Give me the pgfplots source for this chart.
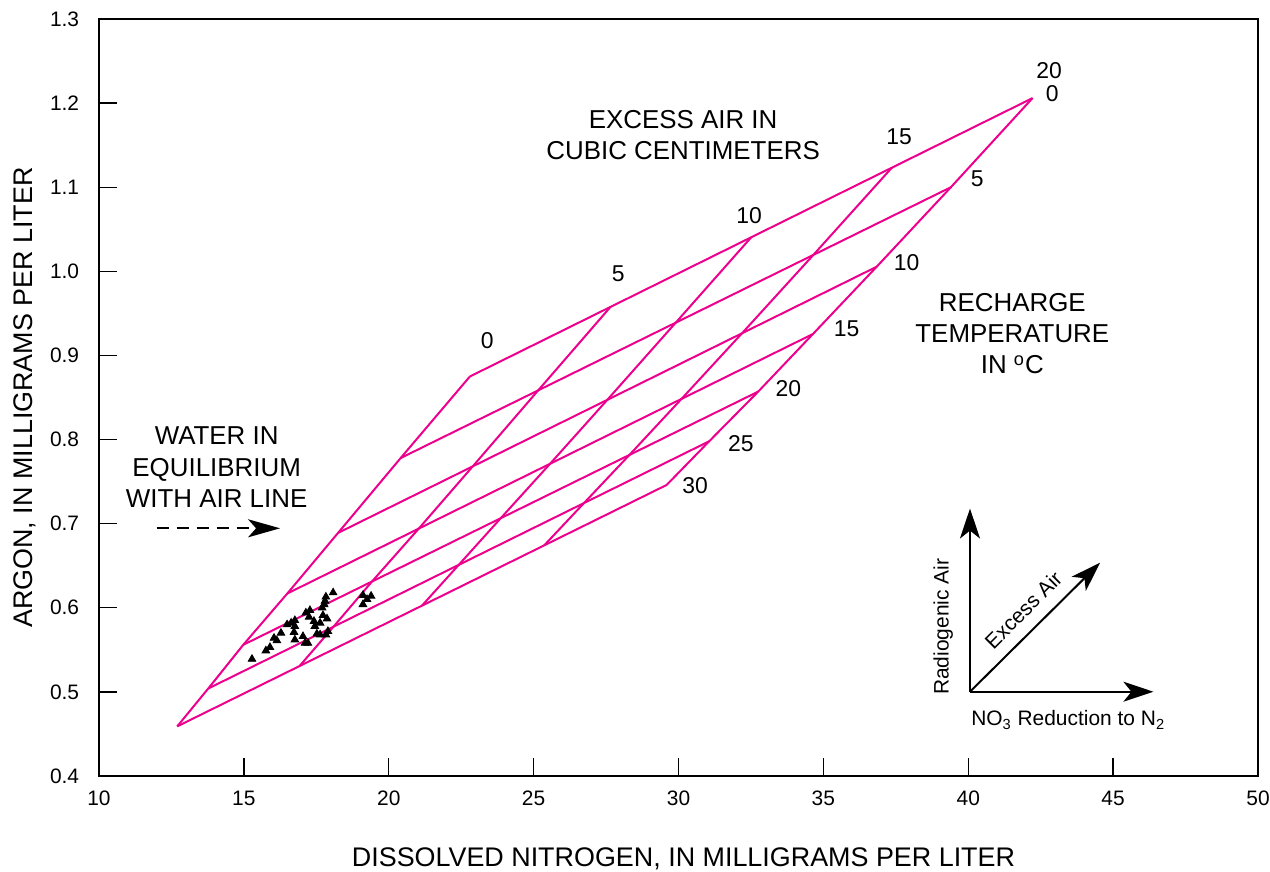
\documentclass[border=0pt]{standalone}
\usepackage{fontspec}
\setmainfont{Liberation Sans}
\usepackage{pgfplots}
\pgfplotsset{compat=1.18}
\usetikzlibrary{arrows.meta}
\definecolor{gridpink}{RGB}{236,0,140}

\begin{document}
\begin{tikzpicture}
\path[use as bounding box] (-49.5bp,-48bp) rectangle (585.5bp,388bp);
\begin{axis}[
  at={(0,0)}, anchor=south west,
  scale only axis, width=579.5bp, height=378.5bp,
  xmin=10, xmax=50, ymin=0.4, ymax=1.3,
  xtick={10,15,20,25,30,35,40,45,50},
  ytick={0.4,0.5,0.6,0.7,0.8,0.9,1.0,1.1,1.2,1.3},
  tick align=inside, xtick pos=bottom, ytick pos=left,
  major tick length=9bp,
  axis line style={line width=1.2bp},
  every tick/.style={black, line width=0.7bp},
  tick label style={font=\fontsize{10.5}{12}\selectfont},
  /pgf/number format/assume math mode=true,
  yticklabel style={/pgf/number format/fixed, /pgf/number format/fixed zerofill,
    /pgf/number format/precision=1, anchor=east, inner xsep=0pt, xshift=-9.75bp},
  xticklabel style={anchor=base, yshift=-14.5bp},
  xlabel={DISSOLVED NITROGEN, IN MILLIGRAMS PER LITER},
  ylabel={ARGON, IN MILLIGRAMS PER LITER},
  label style={font=\fontsize{13.5}{16}\selectfont},
  xlabel style={at={(axis description cs:0.5043,-0.1202)}, anchor=base},
  ylabel style={at={(axis description cs:-0.0578,0.5)}, anchor=base},
  clip=false,
  grid line/.style={gridpink, line width=1bp, no markers},
]
% recharge temperature lines (0 to 30 C), excess air 0 -> 20 cc
\addplot[grid line] coordinates {(22.80,0.875) (42.22,1.206)};
\addplot[grid line] coordinates {(20.41,0.778) (39.40,1.100)};
\addplot[grid line] coordinates {(18.25,0.689) (36.84,1.0055)};
\addplot[grid line] coordinates {(16.50,0.617) (34.64,0.9255)};
\addplot[grid line] coordinates {(14.98,0.556) (32.75,0.857)};
\addplot[grid line] coordinates {(13.77,0.504) (31.06,0.798)};
\addplot[grid line] coordinates {(12.70,0.459) (29.59,0.746)};
% excess air lines (0, 5, 10, 15, 20 cc)
\addplot[grid line] coordinates {(22.80,0.875) (20.41,0.778) (18.25,0.689) (16.50,0.617) (14.98,0.556) (13.77,0.504) (12.70,0.459)};
\addplot[grid line] coordinates {(27.655,0.9578) (25.158,0.8585) (22.898,0.7681) (21.035,0.6941) (19.423,0.6313) (18.093,0.5775) (16.923,0.5308)};
\addplot[grid line] coordinates {(32.51,1.0405) (29.905,0.939) (27.545,0.8473) (25.57,0.7713) (23.865,0.7065) (22.415,0.651) (21.145,0.6025)};
\addplot[grid line] coordinates {(37.365,1.1233) (34.653,1.0195) (32.193,0.9264) (30.105,0.8484) (28.308,0.7818) (26.738,0.7245) (25.368,0.6743)};
\addplot[grid line] coordinates {(42.22,1.206) (39.40,1.100) (36.84,1.0055) (34.64,0.9255) (32.75,0.857) (31.06,0.798) (29.59,0.746)};
% samples
\addplot[only marks, mark=triangle*, mark size=2.2pt, black] coordinates {
(15.28,0.539) (15.76,0.549) (15.90,0.553) (16.04,0.564) (16.14,0.561) (16.28,0.570)
(16.49,0.580) (16.63,0.582) (16.76,0.585) (16.76,0.578) (16.73,0.571) (16.76,0.562)
(17.04,0.566) (17.11,0.558) (17.21,0.558) (17.14,0.594) (17.28,0.597) (17.25,0.589)
(17.42,0.584) (17.45,0.578) (17.52,0.569) (17.63,0.568) (17.63,0.582) (17.70,0.600)
(17.77,0.604) (17.83,0.613) (17.80,0.608) (17.73,0.591) (17.87,0.587) (17.90,0.572)
(17.83,0.568) (18.08,0.618) (19.11,0.615) (19.39,0.614) (19.25,0.610) (19.11,0.604)};

% grid labels
\begin{scope}[every node/.style={font=\fontsize{11.5}{13}\selectfont}]
\node at (23.40,0.9176) {0};
\node at (27.92,0.997) {5};
\node at (32.44,1.066) {10};
\node at (37.61,1.160) {15};
\node at (42.79,1.2385) {20};
\node at (42.90,1.2117) {0};
\node at (40.31,1.1106) {5};
\node at (37.87,1.0107) {10};
\node at (35.80,0.932) {15};
\node at (33.79,0.861) {20};
\node at (32.15,0.7956) {25};
\node at (30.57,0.745) {30};
\end{scope}

\begin{scope}[every node/.style={font=\fontsize{13}{15.8}\selectfont, align=center}]
\node at (30.16,1.162) {EXCESS AIR IN\\CUBIC CENTIMETERS};
\node at (41.52,0.926) {RECHARGE\\TEMPERATURE\\IN \textsuperscript{o}C};
\node at (14.06,0.767) {WATER IN\\EQUILIBRIUM\\WITH AIR LINE};
\end{scope}
\draw[line width=1bp, dash pattern=on 6bp off 4bp,
  -{Stealth[length=16bp,width=9bp,inset=4bp]}] (11.99,0.6945) -- (16.25,0.6945);

% direction inset
\draw[line width=1bp, -{Stealth[length=15bp,width=10bp,inset=4bp]}] (40.06,0.5002) -- (40.06,0.718);
\draw[line width=1bp, -{Stealth[length=15bp,width=10bp,inset=4bp]}] (40.06,0.5002) -- (46.39,0.5002);
\draw[line width=1bp, -{Stealth[length=15bp,width=10bp,inset=4bp]}] (40.06,0.5002) -- (44.55,0.6536);
\begin{scope}[every node/.style={font=\fontsize{10.5}{12}\selectfont}]
\node[rotate=90] at (39.14,0.5775) {Radiogenic Air};
\node[rotate=45] at (41.90,0.5974) {Excess Air};
\node at (43.45,0.4666) {NO\textsubscript{3} Reduction to N\textsubscript{2}};
\end{scope}
\end{axis}
\end{tikzpicture}
\end{document}
